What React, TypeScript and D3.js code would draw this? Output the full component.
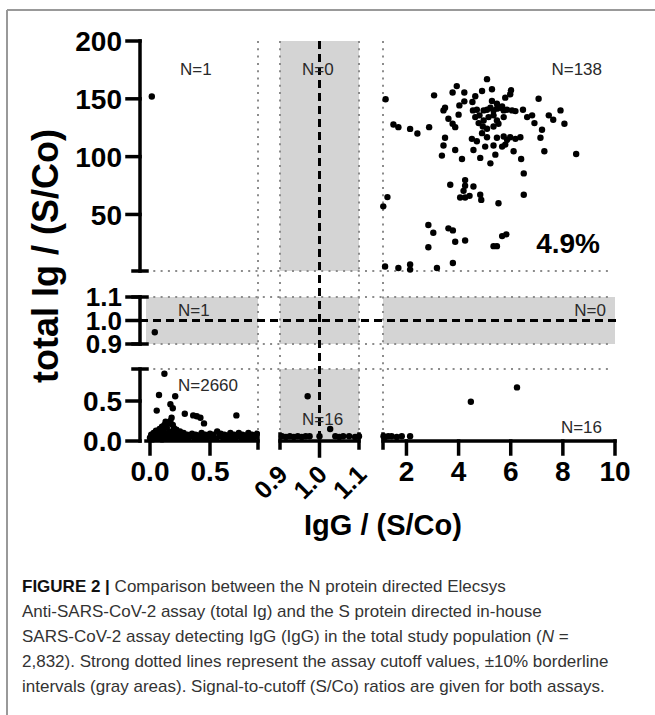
import React from 'react';
import * as d3 from 'd3';

// IgG (S/Co) vs total Ig (S/Co), one array per region of the broken axes
const topLeftPoints: [number, number][] = [[0.015, 152]];
const midLeftPoints: [number, number][] = [[0.04, 0.95]];
const topRightPoints: [number, number][] = [
  [1.2, 149.6], [1.27, 65], [1.11, 57], [1.18, 5], [1.69, 3.7], [2.14, 6.7], [2.14, 2.3], [3.17, 3.7], [3.78, 8],
  [1.5, 127.8], [1.69, 125.5], [2.14, 124], [2.42, 120], [2.87, 125.5], [3.06, 153],
  [2.84, 40.9], [3.03, 34.2], [2.84, 21.7], [3.61, 38], [3.78, 36.2], [3.87, 26.4], [4.25, 27.5],
  [5.34, 22.6], [5.47, 22.6], [5.67, 31.3], [5.83, 32.8],
  [3.68, 75.7], [4.25, 79.7], [4.25, 74.8], [4.19, 70.4], [4.06, 64.6], [4.25, 64.6], [4.42, 66.1], [4.57, 74.2],
  [4.83, 67], [4.87, 62.6], [5.53, 59.7], [6.5, 85.5], [6.5, 67], [8.51, 102.3], [7.91, 140], [8.06, 128.4],
  [7.46, 135.7], [7.63, 131.9], [7.07, 150], [5.09, 167],
  [5.28, 158.3], [4.9, 156.8], [4.64, 152.2], [6.01, 157.4], [5.98, 153.9], [5.79, 151],
  [3.93, 161], [3.77, 155.4], [4.22, 155.4], [4.03, 144.3], [4.22, 147.8], [4.53, 147.2], [4.55, 140],
  [3.48, 142.3], [3.42, 140], [3.61, 132.8], [3.77, 128.4], [3.87, 125.5], [4.0, 136.3],
  [4.7, 140.6], [4.96, 140], [5.09, 140.6], [5.22, 142.3], [5.34, 140], [5.47, 141.5], [5.6, 142.3], [5.73, 140],
  [5.86, 140.6], [6.05, 140], [6.18, 139.4], [6.47, 140.6], [5.28, 148.1], [5.47, 145.8], [5.67, 143.5],
  [4.64, 134.2], [4.8, 135.7], [4.96, 131.3], [5.15, 134.2], [5.34, 135.7], [5.47, 131.3], [5.73, 134.2],
  [4.77, 129], [4.93, 126.1], [5.09, 124.1], [5.34, 126.1], [5.53, 128.4],
  [4.51, 115.4], [4.7, 113.3], [4.9, 120.3], [5.09, 116.8], [5.47, 116.3], [5.73, 117.4], [5.86, 114.5],
  [5.98, 116.8], [6.18, 115.4], [6.37, 116.8], [5.79, 110.4], [5.67, 108.7], [5.34, 109.6], [5.02, 108.7],
  [4.57, 105.8], [4.83, 98.9], [5.22, 94.2], [5.41, 101.7], [6.11, 104.6], [6.4, 98], [4.13, 98],
  [3.36, 100.9], [3.42, 109.6], [3.48, 116.3], [3.87, 105.8],
  [6.63, 134.2], [6.82, 135.7], [6.91, 129], [7.2, 123.2], [7.14, 116.3], [7.29, 104.6],
];
const bottomLeftPoints: [number, number][] = [
  [0.12, 0.84], [0.075, 0.575], [0.21, 0.56], [0.056, 0.38], [0.17, 0.46], [0.19, 0.41], [0.18, 0.29],
  [0.29, 0.34], [0.36, 0.32], [0.39, 0.31], [0.42, 0.29], [0.45, 0.22], [0.72, 0.32],
  [0.03, 0.1], [0.05, 0.13], [0.08, 0.15], [0.1, 0.18], [0.12, 0.2], [0.14, 0.17], [0.15, 0.22], [0.17, 0.25],
  [0.19, 0.2], [0.2, 0.16], [0.22, 0.14], [0.25, 0.12], [0.13, 0.24], [0.11, 0.13], [0.16, 0.12],
  [0.0, 0.04], [0.01, 0.08], [0.02, 0.02], [0.03, 0.06], [0.04, 0.09], [0.05, 0.03], [0.06, 0.07], [0.07, 0.1],
  [0.08, 0.04], [0.09, 0.08], [0.1, 0.02], [0.11, 0.06], [0.12, 0.1], [0.13, 0.04], [0.14, 0.08], [0.15, 0.03],
  [0.16, 0.07], [0.17, 0.11], [0.18, 0.05], [0.19, 0.09], [0.2, 0.03], [0.21, 0.07], [0.22, 0.1], [0.23, 0.04],
  [0.24, 0.08], [0.25, 0.03], [0.27, 0.07], [0.28, 0.1], [0.29, 0.04], [0.31, 0.08], [0.32, 0.03], [0.34, 0.06],
  [0.35, 0.09], [0.37, 0.04], [0.38, 0.08], [0.4, 0.03], [0.41, 0.07], [0.43, 0.1], [0.44, 0.04], [0.46, 0.08],
  [0.47, 0.03], [0.49, 0.06], [0.5, 0.09], [0.52, 0.04], [0.53, 0.08], [0.55, 0.03], [0.56, 0.12], [0.58, 0.06],
  [0.59, 0.09], [0.61, 0.04], [0.62, 0.08], [0.64, 0.03], [0.65, 0.07], [0.67, 0.1], [0.68, 0.04], [0.7, 0.08],
  [0.71, 0.03], [0.73, 0.06], [0.74, 0.1], [0.76, 0.04], [0.77, 0.08], [0.79, 0.03], [0.8, 0.07], [0.82, 0.1],
  [0.83, 0.04], [0.85, 0.08], [0.86, 0.03], [0.88, 0.06], [0.89, 0.09],
];
const bottomMidPoints: [number, number][] = [
  [0.905, 0.06], [0.915, 0.05], [0.925, 0.06], [0.935, 0.05], [0.945, 0.06], [0.955, 0.05], [0.965, 0.06],
  [0.975, 0.06], [1.0, 0.06], [1.04, 0.06], [1.05, 0.05], [1.06, 0.06], [1.075, 0.06], [1.09, 0.05], [1.1, 0.06],
  [0.97, 0.56], [1.027, 0.15],
];
const bottomRightPoints: [number, number][] = [
  [1.12, 0.06], [1.18, 0.05], [1.3, 0.06], [1.43, 0.06], [1.63, 0.05], [1.82, 0.06], [2.14, 0.06],
  [4.47, 0.49], [6.24, 0.67],
];

// N per region: top-left, top-mid, top-right, mid-left, mid-right, bottom-left, bottom-mid, bottom-right
const regionCounts = [1, 0, 138, 1, 0, 2660, 16, 16];
const positiveShare = '4.9%';

const xTicksLeft = [0, 0.5];
const xTicksMid = [0.9, 1.0, 1.1];
const xTicksRight = [2, 4, 6, 8, 10];
const yTicksTop = [50, 100, 150, 200];
const yTicksMid = [0.9, 1.0, 1.1];
const yTicksBottom = [0, 0.5];

const cutoff = 1.0;
const borderLow = 0.9;
const borderHigh = 1.1;
const xMax = 10;
const yMax = 200;

const captionLines = [
  'Comparison between the N protein directed Elecsys',
  'Anti-SARS-CoV-2 assay (total Ig) and the S protein directed in-house',
  'SARS-CoV-2 assay detecting IgG (IgG) in the total study population (',
  '2,832). Strong dotted lines represent the assay cutoff values, \u00b110% borderline',
  'intervals (gray areas). Signal-to-cutoff (S/Co) ratios are given for both assays.',
];

const W = 655;
const H = 715;
const FONT = '"Liberation Sans", Arial, Helvetica, sans-serif';

const App = () => {
  const xLeft = d3.scaleLinear().domain([0, borderLow]).range([150, 258]);
  const xMid = d3.scaleLinear().domain([borderLow, borderHigh]).range([280, 359]);
  const xRight = d3.scaleLinear().domain([borderHigh, xMax]).range([383, 615]);
  const yTop = d3.scaleLinear().domain([borderHigh, yMax]).range([271, 41]);
  const yMid = d3.scaleLinear().domain([borderLow, borderHigh]).range([344, 297]);
  const yBot = d3.scaleLinear().domain([0, borderLow]).range([441, 369]);

  const sx = (v: number) => (v < borderLow ? xLeft(v) : v <= borderHigh ? xMid(v) : xRight(v));
  const sy = (v: number) => (v < borderLow ? yBot(v) : v <= borderHigh ? yMid(v) : yTop(v));

  const axisX = 140;
  const axisY = yBot(0);
  const tick = 13;
  const cap = 7;
  const sw = 3.5;
  const f1 = d3.format('.1f');

  const xSegs = [
    [xLeft(0) - 4, xLeft(borderLow)],
    [xMid(borderLow), xMid(borderHigh)],
    [xRight(borderHigh), xRight(xMax)],
  ];
  const ySegs = [
    [yTop(yMax), yTop(borderHigh)],
    [yMid(borderHigh), yMid(borderLow)],
    [yBot(borderLow), yBot(0)],
  ];

  // gray borderline cells
  const cells: { x0: number; x1: number; y0: number; y1: number }[] = [];
  xSegs.forEach((xs, i) =>
    ySegs.forEach((ys, j) => {
      if (i === 1 || j === 1) cells.push({ x0: i === 0 ? 146 : xs[0], x1: xs[1], y0: ys[0], y1: ys[1] });
    })
  );

  const dotted = { stroke: '#8c8c8c', strokeWidth: 2, strokeDasharray: '2 5.3' };
  const dashed = { stroke: '#000', strokeWidth: 3, strokeDasharray: '8 5' };
  const hDotted = [yTop(borderHigh), yMid(borderHigh), yMid(borderLow), yBot(borderLow)];
  const vDotted = [xLeft(borderLow), xMid(borderLow), xMid(borderHigh), xRight(borderHigh)];

  const allPoints = [
    ...topLeftPoints, ...midLeftPoints, ...topRightPoints,
    ...bottomLeftPoints, ...bottomMidPoints, ...bottomRightPoints,
  ];

  const nPos = [
    { x: 180, y: 75, a: 'start' },
    { x: 302, y: 75, a: 'start' },
    { x: 602, y: 75, a: 'end' },
    { x: 178, y: 316, a: 'start' },
    { x: 606, y: 316, a: 'end' },
    { x: 178, y: 391, a: 'start' },
    { x: 302, y: 425, a: 'start' },
    { x: 602, y: 433, a: 'end' },
  ];

  const axisStyle = { stroke: '#000', strokeWidth: sw, strokeLinecap: 'square' as const };
  const tickFont = { fontFamily: FONT, fontWeight: 700, fontSize: 28, fill: '#000' };

  return (
    <svg width={W} height={H} style={{ position: 'absolute', left: 0, top: 0, background: '#fff' }}>
      {/* frame */}
      <line x1={7} y1={10} x2={7} y2={H} stroke="#999" strokeWidth={2} />
      <line x1={7} y1={10} x2={W} y2={10} stroke="#999" strokeWidth={2} />

      {cells.map((c, i) => (
        <rect key={i} x={c.x0} y={c.y0} width={c.x1 - c.x0} height={c.y1 - c.y0} fill="#d4d4d4" />
      ))}

      {hDotted.map((y, i) => (
        <line key={'h' + i} x1={146} x2={613} y1={y} y2={y} {...dotted} />
      ))}
      {vDotted.map((x, i) => (
        <line key={'v' + i} x1={x} x2={x} y1={yTop(yMax)} y2={axisY} {...dotted} />
      ))}

      {/* cutoff lines */}
      <line x1={xMid(cutoff)} x2={xMid(cutoff)} y1={yTop(yMax)} y2={axisY} {...dashed} />
      <line x1={axisX} x2={620} y1={yMid(cutoff)} y2={yMid(cutoff)} {...dashed} />

      {/* N labels */}
      {regionCounts.map((n, i) => (
        <text key={'n' + i} x={nPos[i].x} y={nPos[i].y} textAnchor={nPos[i].a as any}
          fontFamily={FONT} fontSize={17} fill="#2a2a2a">{`N=${n}`}</text>
      ))}
      <text x={600} y={253} textAnchor="end" fontFamily={FONT} fontWeight={700} fontSize={28}>{positiveShare}</text>

      {/* points */}
      {allPoints.map((d, i) => (
        <circle key={'p' + i} cx={sx(d[0])} cy={sy(d[1])} r={3.2} fill="#000" />
      ))}

      {/* y axis segments */}
      {ySegs.map((s, i) => (
        <line key={'ya' + i} x1={axisX} x2={axisX} y1={s[0]} y2={s[1]} {...axisStyle} />
      ))}
      <line x1={axisX - cap} x2={axisX + cap} y1={yTop(borderHigh)} y2={yTop(borderHigh)} {...axisStyle} />
      <line x1={axisX - cap} x2={axisX + cap} y1={yMid(borderHigh)} y2={yMid(borderHigh)} {...axisStyle} />
      <line x1={axisX - cap} x2={axisX + cap} y1={yMid(borderLow)} y2={yMid(borderLow)} {...axisStyle} />
      <line x1={axisX - cap} x2={axisX + cap} y1={yBot(borderLow)} y2={yBot(borderLow)} {...axisStyle} />
      {yTicksTop.map((v) => (
        <g key={'yt' + v}>
          <line x1={axisX - tick} x2={axisX} y1={yTop(v)} y2={yTop(v)} {...axisStyle} />
          <text x={122} y={yTop(v)} dy="0.36em" textAnchor="end" {...tickFont}>{v}</text>
        </g>
      ))}
      {yTicksMid.map((v) => (
        <g key={'ym' + v}>
          <line x1={axisX - tick} x2={axisX} y1={yMid(v)} y2={yMid(v)} {...axisStyle} />
          <text x={122} y={yMid(v)} dy="0.36em" textAnchor="end" {...tickFont} fontSize={26}>{f1(v)}</text>
        </g>
      ))}
      {yTicksBottom.map((v) => (
        <g key={'yb' + v}>
          <line x1={axisX - tick} x2={axisX} y1={yBot(v)} y2={yBot(v)} {...axisStyle} />
          <text x={122} y={yBot(v)} dy="0.36em" textAnchor="end" {...tickFont}>{f1(v)}</text>
        </g>
      ))}

      {/* x axis segments */}
      {xSegs.map((s, i) => (
        <line key={'xa' + i} x1={s[0]} x2={s[1]} y1={axisY} y2={axisY} {...axisStyle} />
      ))}
      {[xLeft(borderLow), xMid(borderLow), xMid(borderHigh), xRight(borderHigh)].map((x, i) => (
        <line key={'xc' + i} x1={x} x2={x} y1={axisY - cap} y2={axisY + cap} {...axisStyle} />
      ))}
      {xTicksLeft.map((v) => (
        <g key={'xl' + v}>
          <line x1={xLeft(v)} x2={xLeft(v)} y1={axisY} y2={axisY + tick} {...axisStyle} />
          <text x={xLeft(v)} y={481} textAnchor="middle" {...tickFont}>{f1(v)}</text>
        </g>
      ))}
      {xTicksMid.map((v) => (
        <g key={'xm' + v}>
          {v === cutoff && <line x1={xMid(v)} x2={xMid(v)} y1={axisY} y2={axisY + tick + 2} {...axisStyle} />}
          <text transform={`translate(${xMid(v) + 9},476) rotate(-45)`} textAnchor="end" {...tickFont} fontSize={25}>{f1(v)}</text>
        </g>
      ))}
      {xTicksRight.map((v) => (
        <g key={'xr' + v}>
          <line x1={xRight(v)} x2={xRight(v)} y1={axisY} y2={axisY + tick} {...axisStyle} />
          <text x={xRight(v)} y={481} textAnchor="middle" {...tickFont}>{v}</text>
        </g>
      ))}

      {/* axis titles */}
      <text transform="translate(58,256) rotate(-90)" textAnchor="middle"
        fontFamily={FONT} fontWeight={700} fontSize={36}>total Ig / (S/Co)</text>
      <text x={383} y={535} textAnchor="middle" fontFamily={FONT} fontWeight={700} fontSize={29}>IgG / (S/Co)</text>

      {/* caption */}
      <g fontFamily={FONT} fontSize={17} fill="#333">
        {captionLines.map((line, i) => (
          <text key={'c' + i} x={22} y={592 + i * 25}>
            {i === 0 && <tspan fontWeight={700} fill="#111">FIGURE 2 | </tspan>}
            {line}
            {i === 2 && <><tspan fontStyle="italic">N</tspan> =</>}
          </text>
        ))}
      </g>
    </svg>
  );
};

export default App;
